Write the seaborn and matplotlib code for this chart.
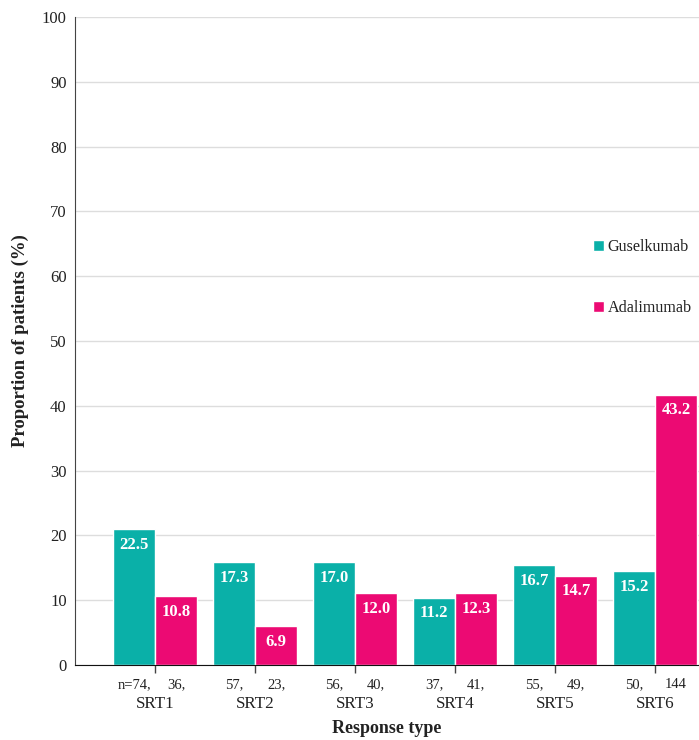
import pandas as pd
import numpy as np
import seaborn as sns
import matplotlib.pyplot as plt

sns.set_style("white")
plt.rcParams['font.family'] = ['Liberation Serif', 'DejaVu Serif']

response_types = ['SRT1', 'SRT2', 'SRT3', 'SRT4', 'SRT5', 'SRT6']
groups = ['Guselkumab', 'Adalimumab']

# bar heights as drawn in the figure
guselkumab_height = [21.0, 15.9, 15.9, 10.4, 15.4, 14.5]
adalimumab_height = [10.6, 6.0, 11.1, 11.1, 13.8, 41.7]

# printed labels on the bars
guselkumab_label = ['22.5', '17.3', '17.0', '11.2', '16.7', '15.2']
adalimumab_label = ['10.8', '6.9', '12.0', '12.3', '14.7', '43.2']

guselkumab_n = ['n=74,', '57,', '56,', '37,', '55,', '50,']
adalimumab_n = ['36,', '23,', '40,', '41,', '49,', '144']

colors = {'Guselkumab': '#0AB0A8', 'Adalimumab': '#EC0A73'}

df = pd.DataFrame({
    'type': response_types * 2,
    'value': guselkumab_height + adalimumab_height,
    'group': ['Guselkumab'] * 6 + ['Adalimumab'] * 6,
})

fig = plt.figure(figsize=(6.99, 7.4), dpi=100)
ax = fig.add_axes([75 / 699, 75 / 740, 624 / 699, 648 / 740])

sns.barplot(data=df, x='type', y='value', hue='group', hue_order=groups,
            palette=colors, width=0.84, gap=0, saturation=1, ax=ax)

ax.set_ylim(0, 100)
ax.set_xlim(-0.8, 5.44)
ax.set_yticks(np.arange(0, 101, 10))
ax.yaxis.grid(True, color='#dddddd', linewidth=1)
ax.set_axisbelow(True)
sns.despine(ax=ax)
ax.spines['left'].set_color('#444444')
ax.spines['bottom'].set_color('#111111')

ax.tick_params(axis='y', length=0, pad=6, labelsize=12, colors='#222222')
ax.tick_params(axis='x', length=6, width=1, color='#444444', direction='out',
               pad=16, labelsize=12.3, labelcolor='#222222')
ax.xaxis.set_ticks_position('bottom')

for cont, labels, ns in zip(ax.containers, [guselkumab_label, adalimumab_label],
                            [guselkumab_n, adalimumab_n]):
    ax.bar_label(cont, labels=labels, label_type='edge', padding=-17,
                 color='white', fontsize=12, fontweight='bold')
    for bar, n in zip(cont, ns):
        ax.annotate(n, (bar.get_x() + bar.get_width() / 2, 0), xytext=(0, -9.5),
                    textcoords='offset points', ha='center', va='top',
                    fontsize=10.5, color='#222222', annotation_clip=False)

ax.set_xlabel('Response type', fontsize=13, fontweight='bold', labelpad=6,
              color='#222222')
ax.set_ylabel('Proportion of patients (%)', fontsize=13.5, fontweight='bold',
              labelpad=9, color='#222222')

sns.move_legend(ax, 'upper left', bbox_to_anchor=(0.83, 0.657), title=None,
                frameon=False, labelspacing=2.8, handlelength=0.7, handleheight=0.7,
                handletextpad=0.2, borderpad=0, borderaxespad=0, fontsize=11.6,
                labelcolor='#222222')

fig.savefig('out.png', dpi=100)
